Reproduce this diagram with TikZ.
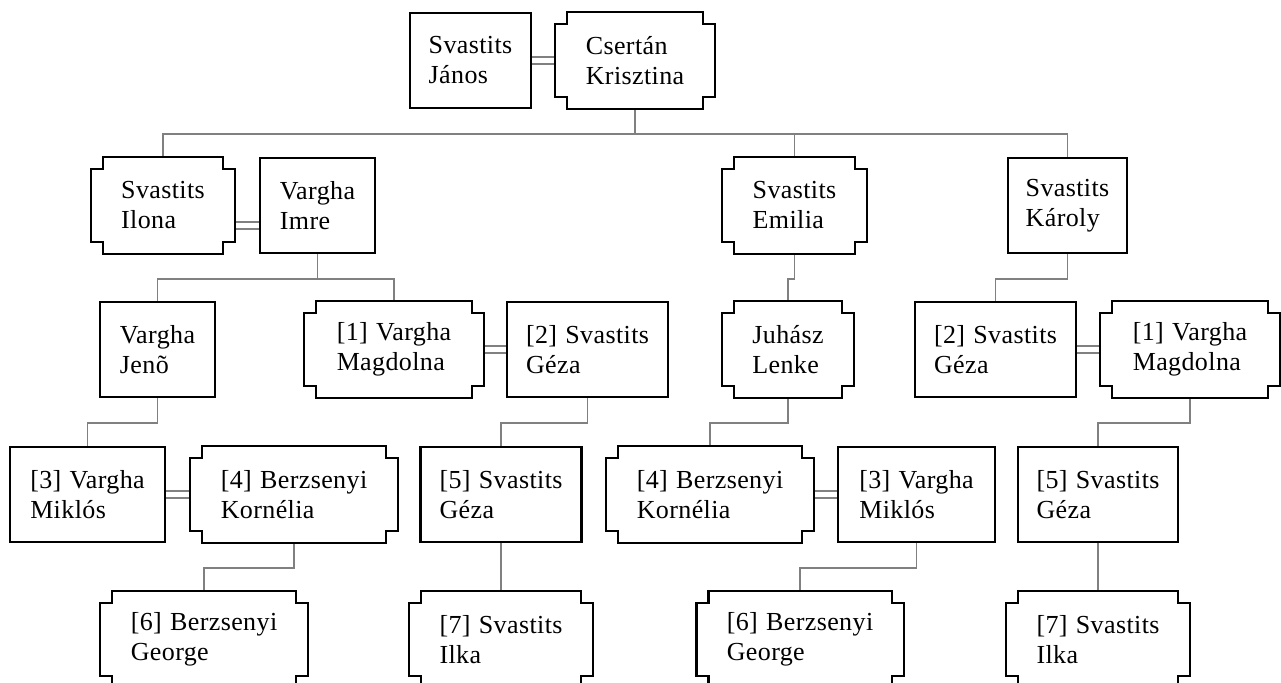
\documentclass[tikz,border=0pt]{standalone}
\usepackage{fontspec}
\setmainfont{Liberation Serif}[LetterSpace=1.5,WordSpace=1.2]
\usetikzlibrary{backgrounds}
\definecolor{linkgray}{RGB}{128,128,128}

\newdimen\nchL \newdimen\nchR \newdimen\nchB \newdimen\nchT \newdimen\notchsz
\notchsz=12pt
\makeatletter
\pgfdeclareshape{notched}{
  \inheritsavedanchors[from=rectangle]
  \inheritanchorborder[from=rectangle]
  \inheritanchor[from=rectangle]{center}
  \inheritanchor[from=rectangle]{north}
  \inheritanchor[from=rectangle]{south}
  \inheritanchor[from=rectangle]{east}
  \inheritanchor[from=rectangle]{west}
  \inheritanchor[from=rectangle]{north east}
  \inheritanchor[from=rectangle]{north west}
  \inheritanchor[from=rectangle]{south east}
  \inheritanchor[from=rectangle]{south west}
  \backgroundpath{
    \southwest \nchL=\pgf@x \nchB=\pgf@y
    \northeast \nchR=\pgf@x \nchT=\pgf@y
    \pgfpathmoveto{\pgfpoint{\nchL+\notchsz}{\nchB}}
    \pgfpathlineto{\pgfpoint{\nchR-\notchsz}{\nchB}}
    \pgfpathlineto{\pgfpoint{\nchR-\notchsz}{\nchB+\notchsz}}
    \pgfpathlineto{\pgfpoint{\nchR}{\nchB+\notchsz}}
    \pgfpathlineto{\pgfpoint{\nchR}{\nchT-\notchsz}}
    \pgfpathlineto{\pgfpoint{\nchR-\notchsz}{\nchT-\notchsz}}
    \pgfpathlineto{\pgfpoint{\nchR-\notchsz}{\nchT}}
    \pgfpathlineto{\pgfpoint{\nchL+\notchsz}{\nchT}}
    \pgfpathlineto{\pgfpoint{\nchL+\notchsz}{\nchT-\notchsz}}
    \pgfpathlineto{\pgfpoint{\nchL}{\nchT-\notchsz}}
    \pgfpathlineto{\pgfpoint{\nchL}{\nchB+\notchsz}}
    \pgfpathlineto{\pgfpoint{\nchL+\notchsz}{\nchB+\notchsz}}
    \pgfpathclose
  }
}
\makeatother

\begin{document}
\begin{tikzpicture}[x=1pt,y=-1pt,
  male/.style={draw, line width=2.4pt, minimum height=95pt, inner sep=0pt, align=left,
    font=\fontsize{26}{30}\selectfont},
  female/.style={male, shape=notched},
  link/.style={draw=linkgray, line width=1.8pt},
  spouse/.style={link, double=white, double distance=4.5pt}]
\useasboundingbox (0,0) rectangle (1281,682);
\clip (0,0) rectangle (1281,682);

\node[male, minimum width=121pt] (janos) at (470.5,60.5) {Svastits\\János};
\node[female, minimum width=158pt] (krisztina) at (635,60.5) {Csertán\\Krisztina};

\node[female, minimum width=142pt] (ilona) at (163,205.5) {Svastits\\Ilona};
\node[male, minimum width=115pt] (imre) at (317.5,205.5) {Vargha\\Imre};
\node[female, minimum width=143pt] (emilia) at (794.5,205.5) {Svastits\\Emilia};
\node[male, minimum width=119pt] (karoly) at (1067.5,205.5) {Svastits\\Károly};

\node[male, minimum width=115pt] (jeno) at (157.5,349.5) {Vargha\\Jenõ};
\node[female, minimum width=178pt] (magdaA) at (394,349.5) {[1] Vargha\\Magdolna};
\node[male, minimum width=161pt] (gezaA) at (587.5,349.5) {[2] Svastits\\Géza};
\node[female, minimum width=130pt] (lenke) at (788,349.5) {Juhász\\Lenke};
\node[male, minimum width=161pt] (gezaB) at (995.5,349.5) {[2] Svastits\\Géza};
\node[female, minimum width=178pt] (magdaB) at (1190,349.5) {[1] Vargha\\Magdolna};

\node[male, minimum width=155pt] (miklosA) at (87.5,494.5) {[3] Vargha\\Miklós};
\node[female, minimum width=206pt] (korneliaA) at (294,494.5) {[4] Berzsenyi\\Kornélia};
\node[male, minimum width=161pt] (geza5A) at (501,494.5) {[5] Svastits\\Géza};
\node[female, minimum width=206pt] (korneliaB) at (710,494.5) {[4] Berzsenyi\\Kornélia};
\node[male, minimum width=157pt] (miklosB) at (916.5,494.5) {[3] Vargha\\Miklós};
\node[male, minimum width=160pt] (geza5B) at (1098,494.5) {[5] Svastits\\Géza};

\node[female, minimum width=206pt] (georgeA) at (204,639.5) {[6] Berzsenyi\\George};
\node[female, minimum width=182pt] (ilkaA) at (501,639.5) {[7] Svastits\\Ilka};
\node[female, minimum width=205pt] (georgeB) at (800,639.5) {[6] Berzsenyi\\George};
\node[female, minimum width=182pt] (ilkaB) at (1098,639.5) {[7] Svastits\\Ilka};

\begin{scope}[on background layer]
\draw[spouse] (janos.east) -- (krisztina.west);
\draw[spouse] ([yshift=-20pt]ilona.east) -- ([yshift=-20pt]imre.west);
\draw[spouse] (magdaA.east) -- (gezaA.west);
\draw[spouse] (gezaB.east) -- (magdaB.west);
\draw[spouse] (miklosA.east) -- (korneliaA.west);
\draw[spouse] (korneliaB.east) -- (miklosB.west);

\foreach \kid in {ilona,emilia,karoly}
  \draw[link] (krisztina.south) -- ++(0,25) -| (\kid.north);
\foreach \kid in {jeno,magdaA}
  \draw[link] (imre.south) -- ++(0,25) -| (\kid.north);
\draw[link] (emilia.south) -- ++(0,25) -| (lenke.north);
\draw[link] (karoly.south) -- ++(0,25) -| (gezaB.north);

\draw[link] (jeno.south) -- ++(0,25) -| (miklosA.north);
\draw[link] (gezaA.south) -- ++(0,25) -| (geza5A.north);
\draw[link] (lenke.south) -- ++(0,25) -| (korneliaB.north);
\draw[link] (magdaB.south) -- ++(0,25) -| (geza5B.north);

\draw[link] (korneliaA.south) -- ++(0,25) -| (georgeA.north);
\draw[link] (geza5A.south) -- (ilkaA.north);
\draw[link] (miklosB.south) -- ++(0,25) -| (georgeB.north);
\draw[link] (geza5B.south) -- (ilkaB.north);
\end{scope}
\end{tikzpicture}
\end{document}
